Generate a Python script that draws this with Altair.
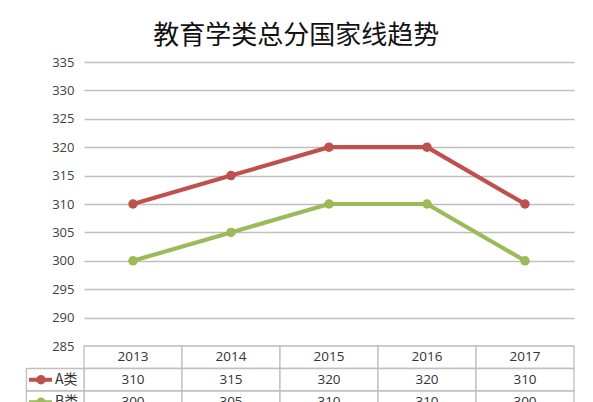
import altair as alt
import pandas as pd

years = ["2013", "2014", "2015", "2016", "2017"]
series = ["A类", "B类"]
a_vals = [310, 315, 320, 320, 310]
b_vals = [300, 305, 310, 310, 300]
y_ticks = [285, 290, 295, 300, 305, 310, 315, 320, 325, 330, 335]
colors = ["#C0504D", "#9BBB59"]
title_text = "教育学类总分国家线趋势"

rows = []
for s, vals in zip(series, [a_vals, b_vals]):
    for yr, v in zip(years, vals):
        rows.append({"year": yr, "series": s, "value": v})
df = pd.DataFrame(rows)

cells = []
for i, yr in enumerate(years):
    cells.append({"year": yr, "row": "hdr", "label": yr})
    cells.append({"year": yr, "row": series[0], "label": str(a_vals[i])})
    cells.append({"year": yr, "row": series[1], "label": str(b_vals[i])})
cells_df = pd.DataFrame(cells)
leg_df = pd.DataFrame({"row": series})

W = 490
H = 284
ROW_H = 22.5
font = "Open Sans"
grid_c = "#BFBFBF"

color_scale = alt.Scale(domain=series, range=colors)
xscale = alt.Scale(type="point", padding=0.5, domain=years)

base = alt.Chart(df).encode(
    x=alt.X("year:O", scale=xscale, axis=None),
    y=alt.Y("value:Q", scale=alt.Scale(domain=[285, 335], nice=False, zero=False),
            axis=alt.Axis(values=y_ticks, title=None, domain=False, ticks=False,
                          labelPadding=10, labelFontSize=13, labelFont=font,
                          labelColor="#404040", gridColor=grid_c, gridWidth=1.6)),
    color=alt.Color("series:N", scale=color_scale, legend=None),
)
lines = base.mark_line(strokeWidth=4.2)
points = base.mark_point(filled=True, size=90, opacity=1)
top = (lines + points).properties(width=W, height=H)

yrow = alt.Scale(domain=["hdr"] + series, paddingInner=0, paddingOuter=0)
xband = alt.Scale(type="band", domain=years, paddingInner=0, paddingOuter=0)

tbl_rect = alt.Chart(cells_df).mark_rect(fill="white", stroke=grid_c, strokeWidth=1.3).encode(
    x=alt.X("year:O", scale=xband, axis=None),
    y=alt.Y("row:N", scale=yrow, axis=None),
)
tbl_text = alt.Chart(cells_df).mark_text(fontSize=13.5, font=font, color="#333333").encode(
    x=alt.X("year:O", scale=xband, bandPosition=0.5, axis=None),
    y=alt.Y("row:N", scale=yrow, bandPosition=0.5, axis=None),
    text="label:N",
)
leg_rect = alt.Chart(leg_df).mark_rect(fill="white", stroke=grid_c, strokeWidth=1.3).encode(
    x=alt.value(-57.6), x2=alt.value(0),
    y=alt.Y("row:N", scale=yrow, axis=None),
)
leg_rule = alt.Chart(leg_df).mark_rule(strokeWidth=4).encode(
    x=alt.value(-55), x2=alt.value(-32),
    y=alt.Y("row:N", scale=yrow, bandPosition=0.5, axis=None),
    color=alt.Color("row:N", scale=color_scale, legend=None),
)
leg_pt = alt.Chart(leg_df).mark_point(filled=True, size=90, opacity=1).encode(
    x=alt.value(-43),
    y=alt.Y("row:N", scale=yrow, bandPosition=0.5, axis=None),
    color=alt.Color("row:N", scale=color_scale, legend=None),
)
leg_text = alt.Chart(leg_df).mark_text(fontSize=14, font="Noto Sans CJK SC", color="#333333",
                                       align="left").encode(
    x=alt.value(-29),
    y=alt.Y("row:N", scale=yrow, bandPosition=0.5, axis=None),
    text="row:N",
)
table = (tbl_rect + tbl_text + leg_rect + leg_rule + leg_pt + leg_text).properties(
    width=W, height=ROW_H * 3)

chart = alt.vconcat(top, table, spacing=0, bounds="flush").resolve_scale(
    x="independent", y="independent"
).properties(
    title=alt.TitleParams(title_text, fontSize=26, font="Noto Sans CJK SC",
                          fontWeight="normal", color="#111111", anchor="middle",
                          offset=7.5, dx=-4),
    padding={"left": 17, "top": 14, "right": 10, "bottom": 0},
    background="white",
).configure_view(stroke="transparent", strokeWidth=0).configure_axisX(grid=False)

chart.save("out.html", embed_options={"renderer": "svg", "actions": False})
